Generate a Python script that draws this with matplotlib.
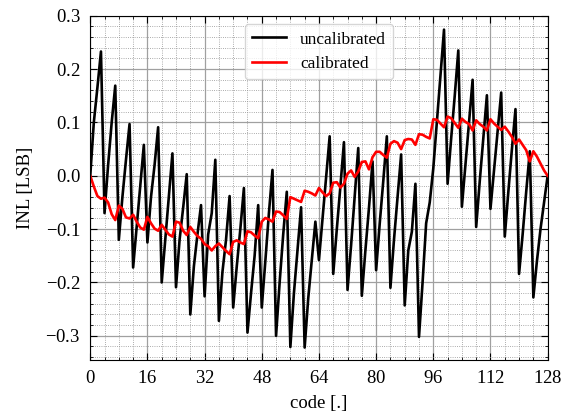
import numpy as np
import matplotlib
matplotlib.use("Agg")
import matplotlib.pyplot as plt
from matplotlib.ticker import MultipleLocator

# INL per code
codes = np.arange(0, 129)

inl_uncal = [
    0.000, 0.100, 0.165, 0.233,
    -0.070, 0.020, 0.100, 0.169,
    -0.120, -0.040, 0.030, 0.097,
    -0.172, -0.095, -0.020, 0.058,
    -0.125, -0.040, 0.020, 0.091,
    -0.200, -0.120, -0.040, 0.042,
    -0.209, -0.120, -0.060, 0.003,
    -0.260, -0.170, -0.110, -0.055,
    -0.226, -0.110, -0.070, 0.030,
    -0.272, -0.180, -0.120, -0.038,
    -0.247, -0.170, -0.100, -0.023,
    -0.294, -0.220, -0.150, -0.055,
    -0.247, -0.160, -0.070, 0.011,
    -0.300, -0.200, -0.110, -0.030,
    -0.321, -0.220, -0.140, -0.059,
    -0.322, -0.230, -0.158, -0.086,
    -0.158, -0.080, 0.000, 0.074,
    -0.184, -0.100, -0.020, 0.063,
    -0.214, -0.130, -0.040, 0.052,
    -0.225, -0.140, -0.060, 0.027,
    -0.177, -0.090, -0.010, 0.074,
    -0.210, -0.120, -0.040, 0.040,
    -0.243, -0.140, -0.105, -0.015,
    -0.302, -0.200, -0.089, -0.050,
    0.014, 0.100, 0.187, 0.274,
    -0.015, 0.070, 0.150, 0.235,
    -0.058, 0.020, 0.100, 0.180,
    -0.096, -0.010, 0.070, 0.151,
    -0.062, 0.010, 0.080, 0.156,
    -0.114, -0.030, 0.050, 0.125,
    -0.184, -0.110, -0.030, 0.046,
    -0.228, -0.160, -0.100, -0.050,
    0.000,
]

inl_cal = [
    0.000, -0.020, -0.038, -0.043,
    -0.041, -0.050, -0.072, -0.083,
    -0.056, -0.062, -0.078, -0.080,
    -0.073, -0.086, -0.097, -0.101,
    -0.077, -0.089, -0.099, -0.103,
    -0.092, -0.101, -0.110, -0.114,
    -0.086, -0.088, -0.103, -0.111,
    -0.096, -0.105, -0.113, -0.118,
    -0.128, -0.132, -0.140, -0.132,
    -0.127, -0.134, -0.141, -0.147,
    -0.124, -0.121, -0.125, -0.128,
    -0.104, -0.106, -0.112, -0.117,
    -0.086, -0.079, -0.082, -0.086,
    -0.067, -0.068, -0.074, -0.081,
    -0.040, -0.043, -0.046, -0.049,
    -0.028, -0.030, -0.033, -0.037,
    -0.023, -0.031, -0.038, -0.033,
    -0.013, -0.012, -0.022, -0.015,
    0.004, 0.010, -0.002, 0.008,
    0.026, 0.027, 0.012, 0.035,
    0.045, 0.045, 0.039, 0.034,
    0.060, 0.065, 0.062, 0.050,
    0.067, 0.069, 0.068, 0.058,
    0.078, 0.077, 0.073, 0.070,
    0.106, 0.105, 0.098, 0.091,
    0.111, 0.108, 0.099, 0.090,
    0.107, 0.101, 0.097, 0.085,
    0.104, 0.097, 0.092, 0.085,
    0.106, 0.098, 0.092, 0.086,
    0.092, 0.083, 0.073, 0.060,
    0.068, 0.058, 0.048, 0.027,
    0.046, 0.036, 0.023, 0.010,
    0.000,
]

x_ticks = [0, 16, 32, 48, 64, 80, 96, 112, 128]

plt.rcParams["font.family"] = ["Liberation Serif", "DejaVu Serif"]
plt.rcParams["mathtext.fontset"] = "stix"
plt.rcParams["font.size"] = 13.5
plt.rcParams["axes.formatter.use_mathtext"] = True

fig = plt.figure(figsize=(5.64, 4.15), dpi=100)
ax = fig.add_axes([0.160, 0.133, 0.811, 0.829])

ax.plot(codes, inl_uncal, color="black", lw=1.9, label="uncalibrated")
ax.plot(codes, inl_cal, color="red", lw=1.9, label="calibrated")

ax.set_xlim(0, 128)
ax.set_ylim(-0.345, 0.3)
ax.set_xticks(x_ticks)
ax.xaxis.set_minor_locator(MultipleLocator(4))
ax.yaxis.set_major_locator(MultipleLocator(0.1))
ax.yaxis.set_minor_locator(MultipleLocator(0.02))

ax.tick_params(which="both", direction="in", top=True, right=True)
ax.tick_params(which="major", length=5, width=0.8, pad=7)
ax.tick_params(which="minor", length=2.5, width=0.6)

ax.grid(which="major", color="#a0a0a0", lw=0.9, ls="-")
ax.grid(which="minor", color="#909090", lw=0.6, ls=":")
ax.set_axisbelow(True)

ax.set_xlabel("code [.]", labelpad=6)
ax.set_ylabel("INL [LSB]", labelpad=8)
ax.legend(loc="upper center", bbox_to_anchor=(0.5, 1.0), frameon=True,
          fancybox=True, framealpha=0.8, edgecolor="#cccccc",
          handlelength=2.0, fontsize=12.5)

fig.savefig("out.png", dpi=100)
